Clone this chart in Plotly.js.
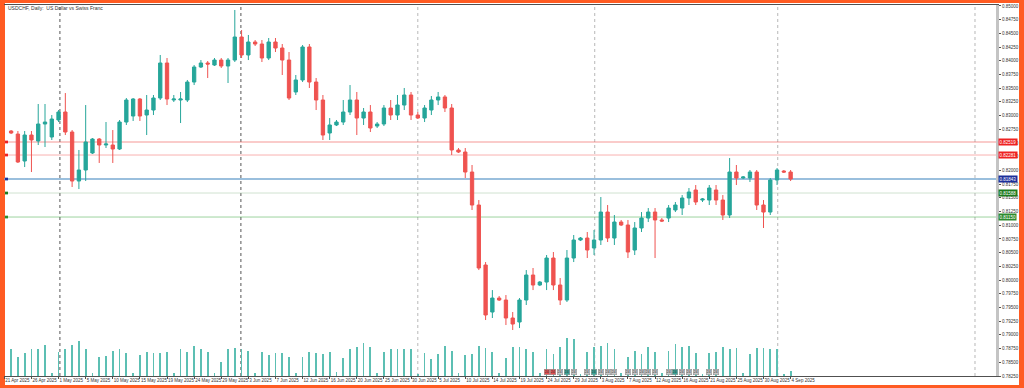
<!DOCTYPE html>
<html>
<head>
<meta charset="utf-8">
<script src="https://cdn.plot.ly/plotly-3.0.1.min.js"></script>
<style>
html,body{margin:0;padding:0;background:#ff5b22;}
#chart{width:1024px;height:388px;}
</style>
</head>
<body>
<div id="chart"></div>
<script>
// ---- data (daily bars, index 0..115) ----
const barIndex = Array.from({length:116}, (_, i) => i);
const openP = [0.82719,0.82664,0.82172,0.82646,0.82537,0.82847,0.82610,0.82920,0.83066,0.82701,
0.81807,0.82008,0.82318,0.82573,0.82464,0.82464,0.82391,0.82883,0.82993,0.83303,
0.83011,0.83102,0.83321,0.83960,0.83285,0.83285,0.83285,0.83613,0.83887,0.83960,
0.83923,0.84014,0.83905,0.84014,0.84434,0.84106,0.84343,0.84306,0.84051,0.84343,
0.84233,0.84014,0.83431,0.83650,0.84252,0.83613,0.83285,0.82683,0.82829,0.82883,
0.83066,0.83285,0.82956,0.83066,0.82810,0.82847,0.83139,0.83011,0.83193,0.83376,
0.83011,0.82956,0.83102,0.83285,0.83340,0.83139,0.82373,0.82336,0.81971,0.81369,
0.80275,0.79417,0.79672,0.79636,0.79308,0.79235,0.79636,0.80092,0.79910,0.79964,
0.80402,0.79910,0.79636,0.80402,0.80731,0.80767,0.80585,0.80731,0.81241,0.80767,
0.81059,0.81004,0.80548,0.80950,0.81132,0.81241,0.81096,0.81132,0.81278,0.81314,
0.81497,0.81643,0.81460,0.81460,0.81643,0.81460,0.81187,0.81971,0.81862,0.81862,
0.81971,0.81369,0.81241,0.81825,0.81989,0.81971];
const highP = [0.82737,0.82719,0.82719,0.82719,0.83212,0.83212,0.83011,0.83102,0.83412,0.82737,
0.82373,0.83193,0.82591,0.82591,0.82883,0.82737,0.82920,0.83321,0.83321,0.83321,
0.83376,0.83376,0.84106,0.84051,0.83376,0.83431,0.83650,0.83923,0.84014,0.83996,
0.84051,0.84051,0.84051,0.84927,0.84562,0.84471,0.84379,0.84379,0.84416,0.84416,
0.84306,0.84160,0.83741,0.84288,0.84306,0.83686,0.83376,0.82956,0.82920,0.83285,
0.83558,0.83431,0.83139,0.83193,0.82883,0.83193,0.83285,0.83376,0.83504,0.83431,
0.83066,0.83193,0.83358,0.83431,0.83376,0.83212,0.82409,0.82409,0.82099,0.81460,
0.80329,0.79818,0.79709,0.79727,0.79417,0.79672,0.80183,0.80220,0.79982,0.80457,
0.80512,0.80037,0.80548,0.80822,0.80785,0.80877,0.80913,0.81515,0.81369,0.81187,
0.81096,0.81096,0.81059,0.81241,0.81314,0.81314,0.81132,0.81369,0.81424,0.81551,
0.81679,0.81734,0.81497,0.81734,0.81734,0.81551,0.82227,0.82099,0.81898,0.82008,
0.82008,0.81460,0.81862,0.82044,0.82008,0.82008];
const lowP = [0.82664,0.82136,0.82062,0.81971,0.82464,0.82427,0.82555,0.82883,0.82646,0.81698,
0.81661,0.81807,0.82300,0.82136,0.82409,0.82136,0.82373,0.82829,0.82902,0.82902,
0.82646,0.83011,0.83285,0.83193,0.83248,0.82865,0.83248,0.83558,0.83869,0.83686,
0.83905,0.83869,0.83595,0.83978,0.84051,0.84014,0.84270,0.83978,0.84014,0.84160,
0.83741,0.83285,0.83376,0.83613,0.83504,0.83102,0.82555,0.82555,0.82810,0.82829,
0.83011,0.82646,0.82829,0.82701,0.82774,0.82810,0.82920,0.82920,0.83102,0.82920,
0.82938,0.82883,0.83011,0.83193,0.83066,0.82281,0.82318,0.81862,0.81278,0.80183,
0.79271,0.79308,0.79618,0.79180,0.79089,0.79125,0.79545,0.79818,0.79891,0.79818,
0.79818,0.79545,0.79600,0.80329,0.80712,0.80402,0.80457,0.80640,0.80694,0.80640,
0.80986,0.80402,0.80457,0.80877,0.81059,0.80402,0.81059,0.81059,0.81241,0.81187,
0.81369,0.81369,0.81424,0.81369,0.81369,0.81096,0.81132,0.81734,0.81843,0.81789,
0.81278,0.80950,0.81187,0.81734,0.81953,0.81807];
const closeP = [0.82683,0.82154,0.82646,0.82555,0.82847,0.82883,0.82938,0.83066,0.82701,0.81807,
0.82008,0.82519,0.82573,0.82464,0.82482,0.82391,0.82883,0.83285,0.83303,0.82993,
0.83102,0.83321,0.83960,0.83303,0.83303,0.83303,0.83613,0.83887,0.83960,0.83941,
0.84014,0.83905,0.84014,0.84434,0.84106,0.84343,0.84306,0.84051,0.84343,0.84233,
0.84014,0.83321,0.83650,0.84252,0.83613,0.83285,0.82646,0.82829,0.82883,0.83066,
0.83285,0.82956,0.83066,0.82774,0.82847,0.83139,0.83011,0.83193,0.83376,0.83011,
0.82956,0.83139,0.83285,0.83340,0.83139,0.82373,0.82336,0.81971,0.81369,0.80220,
0.79363,0.79672,0.79636,0.79308,0.79198,0.79636,0.80092,0.79910,0.79964,0.80402,
0.79910,0.79636,0.80402,0.80731,0.80767,0.80548,0.80731,0.81241,0.80767,0.81059,
0.81004,0.80512,0.80950,0.81132,0.81241,0.81096,0.81077,0.81314,0.81369,0.81497,
0.81606,0.81424,0.81479,0.81679,0.81460,0.81187,0.81971,0.81862,0.81880,0.81971,
0.81369,0.81241,0.81825,0.82008,0.81971,0.81843];
const tickVolume = [27,19,23,27,27,31,3,24,27,31,35,27,3,19,20,25,27,23,3,21,
24,23,23,24,3,27,24,30,27,24,3,14,27,28,27,25,3,24,21,23,
23,19,3,19,24,23,22,24,4,18,27,29,33,29,3,24,27,27,27,27,
2,23,17,22,30,25,3,21,22,30,28,24,3,18,29,29,27,24,3,27,
22,29,38,37,2,24,29,30,33,27,3,19,25,22,29,24,3,25,32,29,
30,23,2,23,24,29,27,28,3,22,28,28,27,27,2,5].map(v => v * 1000);

const dateLabels = ['21 Apr 2025','26 Apr 2025','1 May 2025','5 May 2025','10 May 2025','15 May 2025',
'19 May 2025','24 May 2025','29 May 2025','3 Jun 2025','7 Jun 2025','12 Jun 2025','16 Jun 2025',
'20 Jun 2025','25 Jun 2025','30 Jun 2025','5 Jul 2025','10 Jul 2025','14 Jul 2025','19 Jul 2025',
'24 Jul 2025','29 Jul 2025','3 Aug 2025','7 Aug 2025','12 Aug 2025','16 Aug 2025','21 Aug 2025',
'25 Aug 2025','30 Aug 2025','4 Sep 2025'];
const dateIdx = dateLabels.map((_, k) => 4 * k - 1);

const monthSepIdx = [7.2, 33.9, 60.0, 86.1, 113.1, 142.2];
const monthSepColor = ['#555555','#555555','#b8b8b8','#b8b8b8','#b8b8b8','#b8b8b8'];

const levelPrices = [0.82519, 0.82281, 0.81843, 0.81588, 0.81150];
const levelLineColor = ['rgba(239,83,80,0.30)','rgba(239,83,80,0.45)','rgba(120,170,210,0.75)','rgba(150,190,150,0.45)','rgba(76,175,80,0.55)'];
const levelLineWidth = [2, 1, 2, 1, 1];
const levelTagColor = ['#ee2222','#ee2222','#1d2f9a','#1e7a1e','#2e8b2e'];

// small per-bar marker boxes shown near the bottom (bars 79..104)
const markerBars = [79,80,81,82,83,85,86,87,88,89,91,92,93,94,95,97,98,99,100,101,103,104];
const markerText = ['24','24','24','24','24','24','24','24','24','24','24','24','24','24','24','24','24','24','24','24','24','24'];
const markerFill = ['#e35050','#e35050','#c8c8c8','#3aa596','#c8c8c8','#c8c8c8','#3aa596','#c8c8c8','#c8c8c8','#c8c8c8',
'#c8c8c8','#c8c8c8','#c8c8c8','#c8c8c8','#c8c8c8','#c8c8c8','#3aa596','#c8c8c8','#c8c8c8','#c8c8c8','#c8c8c8','#c8c8c8'];

const titleText = 'USDCHF, Daily:  US Dollar vs Swiss Franc';

// ---- traces ----
const candle = {
  type: 'candlestick', x: barIndex, open: openP, high: highP, low: lowP, close: closeP,
  increasing: {line: {color: '#26a69a', width: 1}, fillcolor: '#26a69a'},
  decreasing: {line: {color: '#ef5350', width: 1}, fillcolor: '#ef5350'},
  whiskerwidth: 0, hoverinfo: 'skip', showlegend: false, xaxis: 'x', yaxis: 'y'
};
const vol = {
  type: 'bar', x: barIndex, y: tickVolume, width: 0.26,
  marker: {color: '#5cbfb3', line: {width: 0}},
  hoverinfo: 'skip', showlegend: false, xaxis: 'x', yaxis: 'y2'
};

// ---- layout ----
const W = 1024, H = 388, mL = 4, mR = 28, mT = 5, mB = 12;
const pw = W - mL - mR, ph = H - mT - mB;
const px2fx = p => (p - mL) / pw;
const px2fy = p => (H - mB - p) / ph;
const FONT = 'Liberation Sans, Arial, sans-serif';

const shapes = [];
shapes.push({type:'rect', xref:'paper', yref:'paper', x0:px2fx(5), x1:px2fx(1019), y0:px2fy(385), y1:px2fy(3),
  fillcolor:'#ffffff', line:{width:0}, layer:'below'});
monthSepIdx.forEach((v, k) => shapes.push({type:'line', xref:'x', yref:'paper', x0:v, x1:v, y0:0, y1:1,
  line:{color:monthSepColor[k], width:1, dash:'dot'}, layer:'below'}));
levelPrices.forEach((p, k) => {
  shapes.push({type:'line', xref:'paper', yref:'y', x0:0, x1:1, y0:p, y1:p,
    line:{color:levelLineColor[k], width:levelLineWidth[k]}, layer:'below'});
  shapes.push({type:'rect', xref:'paper', yref:'y', x0:px2fx(5), x1:px2fx(8), y0:p-0.00025, y1:p+0.00025,
    fillcolor:levelTagColor[k], line:{width:0}});
});

const annotations = [];
annotations.push({xref:'paper', yref:'paper', x:px2fx(6), y:px2fy(8), xanchor:'left', yanchor:'middle',
  text:titleText, showarrow:false, font:{family:FONT, size:5, color:'#333'}});
levelPrices.forEach((p, k) => annotations.push({xref:'paper', yref:'y', x:1, y:p, xanchor:'left', yanchor:'middle',
  xshift:2, text:p.toFixed(5), showarrow:false, bgcolor:levelTagColor[k], borderpad:0.5,
  font:{family:FONT, size:4.5, color:'#ffffff'}}));
markerBars.forEach((b, k) => annotations.push({xref:'x', yref:'paper', x:b, y:px2fy(372), xanchor:'center', yanchor:'middle',
  text:markerText[k], showarrow:false, bgcolor:markerFill[k], bordercolor:'#8a8a8a', borderwidth:0.5, borderpad:0.3,
  font:{family:FONT, size:3.5, color:'#333'}}));

const layout = {
  width: W, height: H,
  margin: {l: mL, r: mR, t: mT, b: mB, pad: 0},
  paper_bgcolor: '#ff5b22', plot_bgcolor: 'rgba(0,0,0,0)',
  showlegend: false, dragmode: false,
  xaxis: {
    type: 'linear', range: [-1.05, 145.3], rangeslider: {visible: false},
    showgrid: false, zeroline: false, showline: true, mirror: true, linecolor: '#505050', linewidth: 1,
    tickmode: 'array', tickvals: dateIdx, ticktext: dateLabels, tickangle: 0,
    ticks: 'outside', ticklen: 2, tickcolor: '#505050', ticklabelposition: 'outside right',
    tickfont: {family: FONT, size: 4.5, color: '#333'}, ticklabelstandoff: 0
  },
  yaxis: {
    side: 'right', range: [0.7825, 0.85018], showgrid: false, zeroline: false,
    showline: true, linecolor: '#c4c4c4', linewidth: 3,
    tickmode: 'linear', tick0: 0.85, dtick: 0.0025, tickformat: '.5f',
    ticks: 'outside', ticklen: 2, tickcolor: '#505050',
    tickfont: {family: FONT, size: 4.5, color: '#333'}
  },
  yaxis2: {overlaying: 'y', range: [0, ph * 1000], visible: false, fixedrange: true},
  bargap: 0, shapes: shapes, annotations: annotations
};

Plotly.newPlot('chart', [vol, candle], layout, {staticPlot: true, displayModeBar: false});
</script>
</body>
</html>
